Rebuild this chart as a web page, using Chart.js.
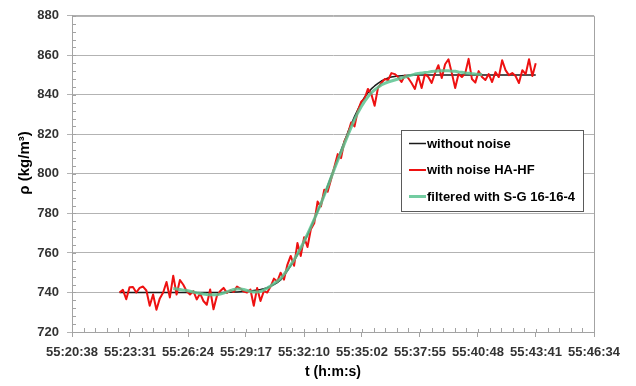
<!DOCTYPE html>
<html>
<head>
<meta charset="utf-8">
<script src="https://cdn.jsdelivr.net/npm/chart.js@4.4.1/dist/chart.umd.min.js"></script>
<style>
  html, body { margin: 0; padding: 0; background: #ffffff; }
  #wrap { width: 636px; height: 386px; position: relative; }
</style>
</head>
<body>
<div id="wrap"><canvas id="c" width="636" height="386"></canvas></div>
<script>
// Time axis (seconds of elapsed time, shown as h:m:s)
const X_MIN = 199238.4;
const X_MAX = 200793.6;
const X_TICK_STEP = 172.8;
const xTickLabels = ['55:20:38', '55:23:31', '55:26:24', '55:29:17', '55:32:10',
                     '55:35:02', '55:37:55', '55:40:48', '55:43:41', '55:46:34'];

// Sampling of the measured signal
const T_START = 199380;   // 55:23:00
const T_STEP = 10;        // one sample every 10 s

// Density axis
const Y_MIN = 720, Y_MAX = 880, Y_STEP = 20;

// Density without noise (kg/m3)
const withoutNoise = [
  740.0, 740.0, 740.0, 740.0, 740.0, 740.0, 740.0, 740.0, 740.0, 740.0,
  740.0, 740.0, 740.0, 740.0, 740.0, 740.0, 740.0, 740.0, 740.0, 740.0,
  740.0, 740.0, 740.0, 740.0, 740.0, 740.0, 740.0, 740.0, 740.0, 740.0,
  740.0, 740.0, 740.1, 740.1, 740.2, 740.3, 740.4, 740.5, 740.6, 740.8,
  741.0, 741.2, 741.5, 741.9, 742.4, 743.1, 744.0, 745.0, 746.3, 748.5,
  751.0, 753.5, 756.0, 759.0, 762.0, 765.5, 769.0, 773.0, 777.0, 781.0,
  785.0, 789.5, 794.0, 798.5, 803.0, 807.5, 812.0, 816.5, 821.0, 825.0,
  829.0, 832.5, 836.0, 838.8, 841.0, 843.0, 844.5, 845.8, 847.0, 847.8,
  848.5, 849.0, 849.3, 849.5, 849.7, 849.8, 849.9, 850.0, 850.0, 850.0,
  850.0, 850.0, 850.0, 850.0, 850.0, 850.0, 850.0, 850.0, 850.0, 850.0,
  850.0, 850.0, 850.0, 850.0, 850.0, 850.0, 850.0, 850.0, 850.0, 850.0,
  850.0, 850.0, 850.0, 850.0, 850.0, 850.0, 850.0, 850.0, 850.0, 850.0,
  850.0, 850.0, 850.0, 850.0, 850.0
];

// Density with HA-HF noise (kg/m3)
const withNoise = [
  740.0, 741.3, 736.6, 742.7, 742.8, 740.0, 742.3, 743.0, 741.0, 733.3,
  739.0, 731.3, 737.0, 740.0, 745.3, 737.5, 748.5, 739.0, 746.3, 743.9,
  740.6, 739.0, 740.7, 736.5, 739.5, 735.7, 733.8, 741.5, 731.5, 738.2,
  740.7, 742.3, 739.8, 741.0, 740.3, 743.0, 742.0, 740.5, 740.0, 741.5,
  733.3, 742.3, 735.7, 740.7, 740.0, 743.0, 747.0, 745.5, 750.0, 746.5,
  754.0, 758.5, 753.5, 765.0, 758.5, 768.0, 763.0, 772.0, 775.0, 786.0,
  783.5, 792.0, 791.0, 797.0, 803.5, 810.0, 808.0, 816.5, 820.0, 826.0,
  824.0, 832.0, 836.5, 838.0, 843.0, 840.5, 834.5, 843.5, 846.0, 848.0,
  847.5, 851.0, 850.5, 849.0, 846.5, 849.8, 848.5, 846.0, 843.0, 849.5,
  843.5, 850.5, 849.0, 846.0, 851.0, 855.0, 848.5, 855.5, 858.0, 851.0,
  843.5, 850.5, 849.0, 851.0, 858.2, 848.0, 846.2, 852.0, 849.0, 847.5,
  850.5, 846.5, 851.5, 849.0, 857.5, 852.5, 850.0, 851.0, 849.5, 846.0,
  852.5, 850.5, 858.0, 849.5, 856.0
];

// Savitzky-Golay 16-16-4 output (first and last 16 samples are not available)
const FILTER_OFFSET = 16;
const filteredSG = [
  742.0, 741.8, 741.5, 741.2, 741.0, 740.6, 740.2, 739.8, 739.5, 739.2,
  739.0, 738.9, 738.8, 738.9, 739.2, 739.7, 740.3, 740.9, 741.5, 741.8,
  741.8, 741.5, 741.0, 740.5, 740.2, 740.2, 740.5, 741.2, 742.2, 743.3,
  744.5, 745.7, 747.0, 749.2, 751.5, 754.0, 756.5, 759.5, 762.5, 766.0,
  769.5, 773.2, 777.0, 781.0, 785.0, 789.2, 793.5, 798.0, 802.5, 806.8,
  811.0, 815.3, 819.5, 823.5, 827.5, 831.0, 834.0, 836.7, 839.0, 841.0,
  842.5, 843.8, 845.0, 845.8, 846.5, 847.0, 847.5, 848.0, 848.5, 849.0,
  849.5, 850.0, 850.5, 850.8, 851.0, 851.3, 851.5, 851.8, 852.0, 852.1,
  852.2, 852.2, 852.2, 852.0, 851.9, 851.6, 851.4, 851.1, 850.9, 850.7,
  850.5, 850.4, 850.3
];

const seriesNames = ['without noise', 'with noise HA-HF', 'filtered with S-G 16-16-4'];

function toPoints(values, offset) {
  return values.map((v, i) => ({ x: T_START + (i + offset) * T_STEP, y: v }));
}

const FONT = '"Liberation Sans", Arial, sans-serif';
const GRID = '#b3b3b3';
const AXIS = '#a3a3a3';

// Minor tick marks, plot frame, axis titles and the boxed legend
const decorations = {
  id: 'decorations',
  afterDraw(chart) {
    const ctx = chart.ctx;
    const a = chart.chartArea;
    const xs = chart.scales.x, ys = chart.scales.y;
    ctx.save();
    ctx.strokeStyle = AXIS;
    ctx.lineWidth = 1;
    // frame (top and right)
    ctx.beginPath();
    ctx.moveTo(a.left, a.top + 0.5);
    ctx.lineTo(a.right + 0.5, a.top + 0.5);
    ctx.lineTo(a.right + 0.5, a.bottom);
    ctx.stroke();
    // x minor ticks (inside) and inner part of the major ticks
    ctx.beginPath();
    for (let k = 0; k <= 45; k++) {
      const px = Math.round(xs.getPixelForValue(X_MIN + k * X_TICK_STEP / 5)) + 0.5;
      const len = (k % 5 === 0) ? 3 : 4;
      ctx.moveTo(px, a.bottom);
      ctx.lineTo(px, a.bottom - len);
    }
    // y minor ticks (inside)
    for (let v = Y_MIN; v <= Y_MAX; v += Y_STEP / 5) {
      const py = Math.round(ys.getPixelForValue(v)) + 0.5;
      ctx.moveTo(a.left, py);
      ctx.lineTo(a.left + 4, py);
    }
    ctx.stroke();

    // axis titles
    ctx.fillStyle = '#000000';
    ctx.textAlign = 'center';
    ctx.textBaseline = 'middle';
    ctx.font = 'bold 14px ' + FONT;
    ctx.fillText('t (h:m:s)', (a.left + a.right) / 2, 372);
    ctx.save();
    ctx.translate(25, 163);
    ctx.rotate(-Math.PI / 2);
    ctx.font = 'bold 15px ' + FONT;
    ctx.fillText('\u03C1 (kg/m\u00B3)', 0, 0);
    ctx.restore();

    // legend box
    const lx = 401, ly = 130, lw = 182, lh = 81;
    ctx.fillStyle = '#ffffff';
    ctx.fillRect(lx, ly, lw, lh);
    ctx.strokeStyle = '#5a5a5a';
    ctx.lineWidth = 1;
    ctx.strokeRect(lx + 0.5, ly + 0.5, lw, lh);
    const rows = [143.5, 170, 196.5];
    ctx.font = 'bold 13px ' + FONT;
    ctx.textAlign = 'left';
    ctx.textBaseline = 'middle';
    chart.data.datasets.forEach((ds, i) => {
      const y = rows[i];
      ctx.strokeStyle = ds.borderColor;
      ctx.lineWidth = ds.borderWidth;
      ctx.beginPath();
      ctx.moveTo(409, y);
      ctx.lineTo(426, y);
      ctx.stroke();
      ctx.fillStyle = '#000000';
      ctx.fillText(ds.label, 427, y + 0.5);
    });
    ctx.restore();
  }
};

new Chart(document.getElementById('c'), {
  type: 'line',
  data: {
    datasets: [
      { label: seriesNames[0], data: toPoints(withoutNoise, 0),
        borderColor: '#1a1a1a', borderWidth: 1.5, order: 3 },
      { label: seriesNames[1], data: toPoints(withNoise, 0),
        borderColor: '#ee1111', borderWidth: 2, order: 2 },
      { label: seriesNames[2], data: toPoints(filteredSG, FILTER_OFFSET),
        borderColor: 'rgba(90,195,145,0.85)', borderWidth: 3, order: 1 }
    ]
  },
  options: {
    responsive: false,
    animation: false,
    devicePixelRatio: 1,
    elements: { point: { radius: 0 }, line: { tension: 0, borderJoinStyle: 'round' } },
    layout: { padding: { top: 9, right: 42, left: 0, bottom: 0 } },
    plugins: { legend: { display: false }, tooltip: { enabled: false } },
    scales: {
      x: {
        type: 'linear',
        min: X_MIN,
        max: X_MAX,
        afterBuildTicks(scale) {
          scale.ticks = xTickLabels.map((_, i) => ({ value: X_MIN + i * X_TICK_STEP }));
        },
        afterFit(scale) { scale.height = 54; },
        ticks: {
          autoSkip: false,
          maxRotation: 0,
          padding: 8,
          color: '#333333',
          font: { family: FONT, size: 13, weight: 'bold' },
          callback: (v, i) => xTickLabels[i]
        },
        grid: { drawOnChartArea: false, tickLength: 5, color: AXIS },
        border: { color: AXIS }
      },
      y: {
        min: Y_MIN,
        max: Y_MAX,
        afterFit(scale) { scale.width = 72; },
        ticks: {
          stepSize: Y_STEP,
          padding: 8,
          color: '#333333',
          font: { family: FONT, size: 13, weight: 'bold' }
        },
        grid: { color: GRID, tickLength: 5 },
        border: { color: AXIS }
      }
    }
  },
  plugins: [decorations]
});
</script>
</body>
</html>
